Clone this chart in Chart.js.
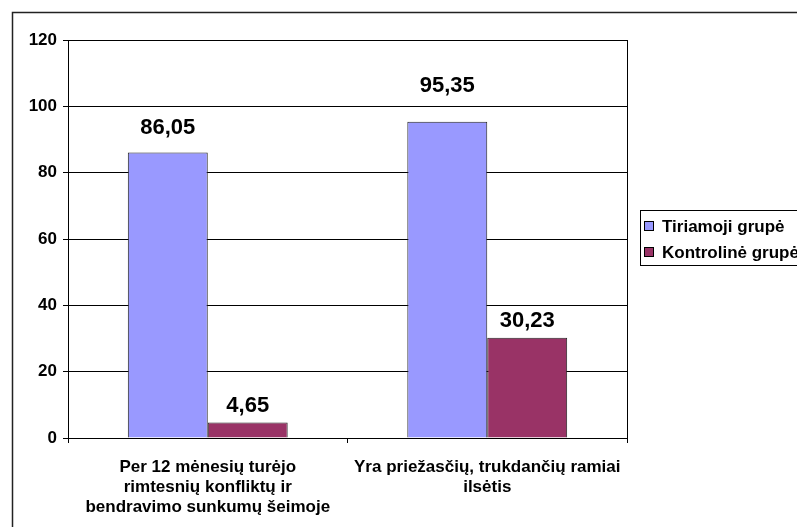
<!DOCTYPE html>
<html>
<head>
<meta charset="utf-8">
<script src="https://cdn.jsdelivr.net/npm/chart.js@4/dist/chart.umd.min.js"></script>
<style>
	html, body { margin: 0; padding: 0; background: #fff; overflow: hidden; }
	canvas { display: block; }
</style>
</head>
<body>
<canvas id="bar-chart" width="797" height="527"></canvas>
<script>
	// Data
	var categories = [
		['Per 12 mėnesių turėjo', 'rimtesnių konfliktų ir', 'bendravimo sunkumų šeimoje'],
		['Yra priežasčių, trukdančių ramiai', 'ilsėtis'],
	];
	var seriesNames = ['Tiriamoji grupė', 'Kontrolinė grupė'];
	var tiriamoji = [86.05, 95.35];
	var kontroline = [4.65, 30.23];
	var yTicks = [0, 20, 40, 60, 80, 100, 120];

	var FONT = '"Liberation Sans", Arial, sans-serif';

	// Frame, plot edge, value labels and legend
	var framePlugin = {
		id: 'frame',
		beforeDraw: function (chart) {
			var ctx = chart.ctx;
			ctx.save();
			ctx.fillStyle = '#fff';
			ctx.fillRect(0, 0, chart.width, chart.height);
			ctx.strokeStyle = '#222';
			ctx.lineWidth = 1.5;
			ctx.strokeRect(12.5, 12.5, 820, 600);
			ctx.restore();
		},
		afterDraw: function (chart) {
			var ctx = chart.ctx;
			var a = chart.chartArea;
			ctx.save();
			// right edge of plot area
			ctx.strokeStyle = '#000';
			ctx.lineWidth = 1;
			ctx.beginPath();
			ctx.moveTo(Math.round(a.right) + 0.5, a.top);
			ctx.lineTo(Math.round(a.right) + 0.5, a.bottom);
			ctx.stroke();

			// value labels
			var gaps = [[17, 28], [9, 9]];
			ctx.fillStyle = '#000';
			ctx.font = 'bold 22px ' + FONT;
			ctx.textAlign = 'center';
			ctx.textBaseline = 'bottom';
			chart.data.datasets.forEach(function (ds, i) {
				chart.getDatasetMeta(i).data.forEach(function (bar, j) {
					var txt = ds.data[j].toFixed(2).replace('.', ',');
					ctx.fillText(txt, bar.x, bar.y - gaps[i][j] + 3);
				});
			});

			// legend
			ctx.strokeStyle = '#000';
			ctx.strokeRect(640.5, 210.5, 220, 55);
			ctx.font = 'bold 17px ' + FONT;
			ctx.textAlign = 'left';
			ctx.textBaseline = 'middle';
			chart.data.datasets.forEach(function (ds, i) {
				var cy = 226 + i * 26;
				ctx.fillStyle = ds.backgroundColor;
				ctx.fillRect(644.5, cy - 4.5, 9, 9);
				ctx.strokeRect(644.5, cy - 4.5, 9, 9);
				ctx.fillStyle = '#000';
				ctx.fillText(ds.label, 662, cy + 1);
			});
			ctx.restore();
		},
	};

	var ctx1 = document.getElementById('bar-chart').getContext('2d');
	var myChart1 = new Chart(ctx1, {
		type: 'bar',
		data: {
			labels: categories,
			datasets: [
				{
					label: seriesNames[0],
					data: tiriamoji,
					backgroundColor: '#9999FF',
					borderColor: '#222',
					borderWidth: 1,
				},
				{
					label: seriesNames[1],
					data: kontroline,
					backgroundColor: '#993366',
					borderColor: '#222',
					borderWidth: 1,
				},
			],
		},
		options: {
			responsive: false,
			animation: false,
			layout: { padding: { top: 40, right: 170, bottom: 0, left: 0 } },
			datasets: {
				bar: { categoryPercentage: 0.572, barPercentage: 1 },
			},
			plugins: {
				legend: { display: false },
				tooltip: { enabled: false },
			},
			scales: {
				x: {
					afterFit: function (scale) { scale.height = 89; },
					grid: {
						offset: true,
						drawOnChartArea: false,
						color: '#000',
						tickLength: 5,
					},
					border: { color: '#000', width: 1 },
					ticks: {
						color: '#000',
						font: { family: FONT, size: 17, weight: 'bold', lineHeight: '20px' },
						maxRotation: 0,
						autoSkip: false,
						padding: 14,
					},
				},
				y: {
					min: yTicks[0],
					max: yTicks[yTicks.length - 1],
					afterFit: function (scale) { scale.width = 68; },
					afterBuildTicks: function (scale) {
						scale.ticks = yTicks.map(function (v) { return { value: v }; });
					},
					grid: { color: '#000', lineWidth: 1, tickLength: 5 },
					border: { color: '#000', width: 1 },
					ticks: {
						color: '#000',
						font: { family: FONT, size: 17, weight: 'bold' },
						padding: 6,
					},
				},
			},
		},
		plugins: [framePlugin],
	});
</script>
</body>
</html>
